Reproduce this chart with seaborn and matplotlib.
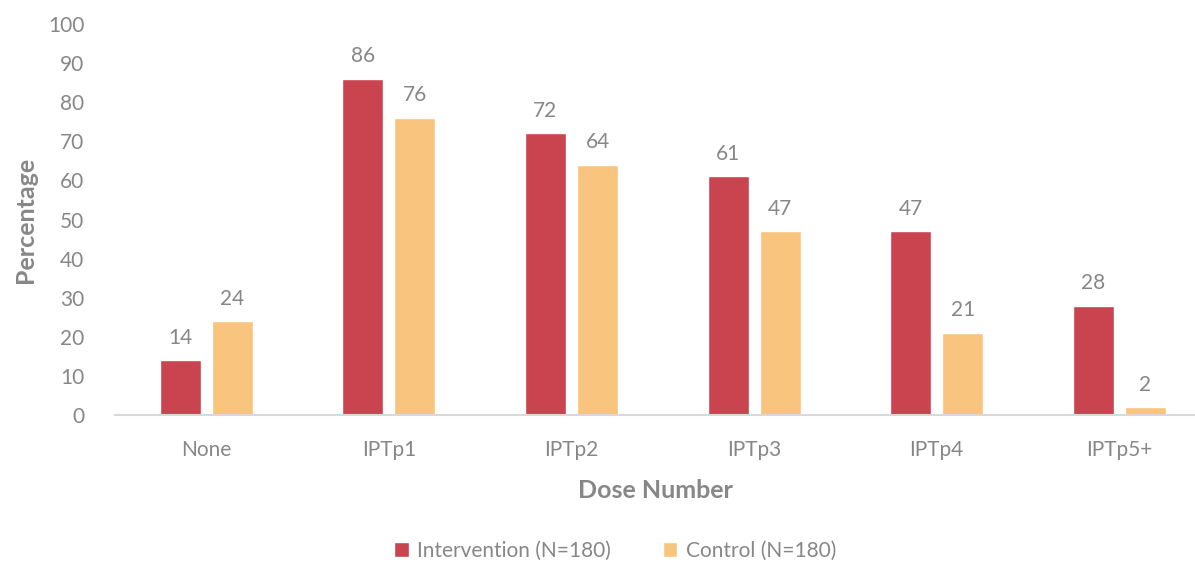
import pandas as pd
import matplotlib.pyplot as plt
import seaborn as sns

# chart values
doses = ["None", "IPTp1", "IPTp2", "IPTp3", "IPTp4", "IPTp5+"]
intervention = [14, 86, 72, 61, 47, 28]
control = [24, 76, 64, 47, 21, 2]
groups = ["Intervention (N=180)", "Control (N=180)"]
colors = ["#C9444F", "#F9C47D"]
gray = "#878787"

df = pd.DataFrame({
    "Dose": doses * 2,
    "Percentage": intervention + control,
    "Group": [groups[0]] * len(doses) + [groups[1]] * len(doses),
})

sns.set_style("white")
plt.rcParams['font.family'] = ['Lato', 'DejaVu Sans']

fig = plt.figure(figsize=(11.95, 5.64), dpi=100)
ax = fig.add_axes([115 / 1195, 1 - 415 / 564, 1080 / 1195, (415 - 24) / 564])

sns.barplot(data=df, x="Dose", y="Percentage", hue="Group", order=doses,
            hue_order=groups, palette=colors, width=0.57, gap=0.21,
            saturation=1, ax=ax)

for cont in ax.containers:
    ax.bar_label(cont, padding=9, fontsize=15, color=gray)

ax.set_ylim(0, 100)
ax.set_xlim(-0.5, -0.5 + 1080 / 182.6)
ax.set_yticks(range(0, 101, 10))
ax.tick_params(axis='both', length=0, labelsize=15, labelcolor=gray)
ax.tick_params(axis='x', pad=18)
ax.tick_params(axis='y', pad=22)

for s in ["top", "right", "left"]:
    ax.spines[s].set_visible(False)
ax.spines["bottom"].set_color("#d9d9d9")
ax.spines["bottom"].set_linewidth(1.5)

ax.set_xlabel("Dose Number", fontsize=18, fontweight="bold", color=gray, labelpad=14)
ax.set_ylabel("Percentage", fontsize=18, fontweight="bold", color=gray, labelpad=8)

ax.legend(loc="center", bbox_to_anchor=(615 / 1195, 13 / 564),
          bbox_transform=fig.transFigure, ncol=2, frameon=False,
          fontsize=15, labelcolor=gray, handlelength=0.7, handleheight=0.7,
          columnspacing=2.5, handletextpad=0.4)

plt.savefig("out.png", dpi=100)
plt.close()
